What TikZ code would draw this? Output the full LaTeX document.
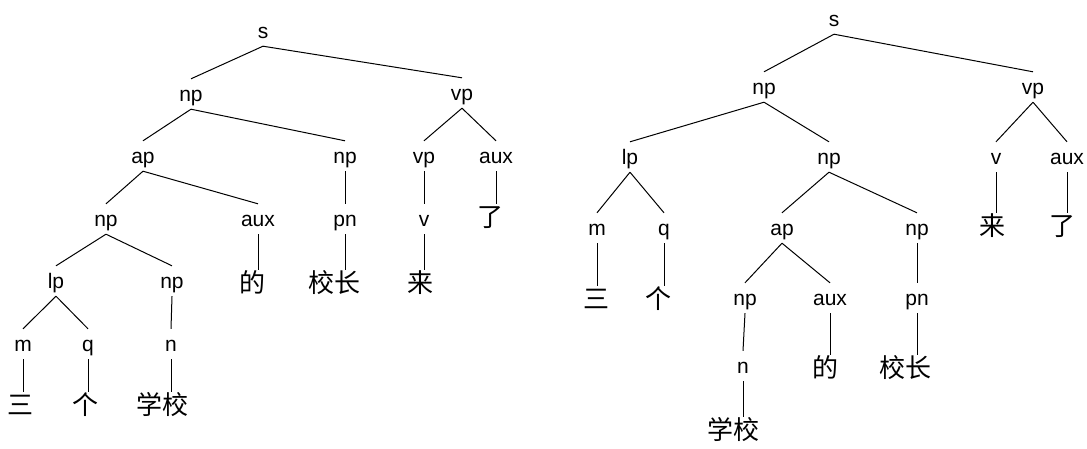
\documentclass[tikz,border=0pt]{standalone}
\usepackage{fontspec}
\setmainfont{Liberation Sans}
\newfontfamily\cjk{Noto Sans CJK SC}
\tikzset{
  lab/.style={font=\fontsize{21}{21}\selectfont, inner xsep=0pt, inner ysep=4.5pt, text height=18pt, text depth=3pt, yshift=2pt},
  zh/.style={font=\cjk\fontsize{26}{26}\selectfont, inner sep=0pt, text height=22pt, text depth=4pt},
  edge/.style={line width=1pt, black}
}
\begin{document}
\begin{tikzpicture}[x=1pt,y=-1pt]
\useasboundingbox (0,0) rectangle (1087,448);
% ---------------- left tree ----------------
\node[lab] (Ls)    at (263,33)  {s};
\node[lab] (Lnp1)  at (191,96)  {np};
\node[lab] (Lvp1)  at (462,95)  {vp};
\node[lab] (Lap)   at (143,158) {ap};
\node[lab] (Lnp2)  at (345,158) {np};
\node[lab] (Lvp2)  at (424,158) {vp};
\node[lab] (Laux1) at (496,158) {aux};
\node[lab] (Lnp3)  at (106,221) {np};
\node[lab] (Laux2) at (258,221) {aux};
\node[lab] (Lpn)   at (345,221) {pn};
\node[lab] (Lv)    at (424,221) {v};
\node[zh]  (Lle)   at (490,217) {了};
\node[lab] (Llp)   at (56,283)  {lp};
\node[lab] (Lnp4)  at (172,283) {np};
\node[zh]  (Lde)   at (252,283) {的};
\node[zh]  (Lxz)   at (334,283) {校长};
\node[zh]  (Llai)  at (420,283) {来};
\node[lab] (Lm)    at (23,346)  {m};
\node[lab] (Lq)    at (88,346)  {q};
\node[lab] (Ln)    at (171,346) {n};
\node[zh]  (Lsan)  at (21,405)  {三};
\node[zh]  (Lge)   at (85,405)  {个};
\node[zh]  (Lxx)   at (162,405) {学校};
\draw[edge] (Ls.south) -- (Lnp1.north);
\draw[edge] (Ls.south) -- (Lvp1.north);
\draw[edge] (Lnp1.south) -- (Lap.north);
\draw[edge] (Lnp1.south) -- (Lnp2.north);
\draw[edge] (Lvp1.south) -- (Lvp2.north);
\draw[edge] (Lvp1.south) -- (Laux1.north);
\draw[edge] (Lap.south) -- (Lnp3.north);
\draw[edge] (Lap.south) -- (Laux2.north);
\draw[edge] (Lnp2.south) -- (Lpn.north);
\draw[edge] (Lvp2.south) -- (Lv.north);
\draw[edge] (Laux1.south) -- (Laux1.south |- Lle.north);
\draw[edge] (Lnp3.south) -- (Llp.north);
\draw[edge] (Lnp3.south) -- (Lnp4.north);
\draw[edge] (Laux2.south) -- (Laux2.south |- Lde.north);
\draw[edge] (Lpn.south) -- (Lpn.south |- Lxz.north);
\draw[edge] (Lv.south) -- (Lv.south |- Llai.north);
\draw[edge] (Llp.south) -- (Lm.north);
\draw[edge] (Llp.south) -- (Lq.north);
\draw[edge] (Lnp4.south) -- (Ln.north);
\draw[edge] (Lm.south) -- (Lm.south |- Lsan.north);
\draw[edge] (Lq.south) -- (Lq.south |- Lge.north);
\draw[edge] (Ln.south) -- (Ln.south |- Lxx.north);
% ---------------- right tree ----------------
\node[lab] (Rs)    at (834,21)  {s};
\node[lab] (Rnp1)  at (764,89)  {np};
\node[lab] (Rvp1)  at (1033,89) {vp};
\node[lab] (Rlp)   at (630,159) {lp};
\node[lab] (Rnp2)  at (829,159) {np};
\node[lab] (Rv)    at (996,159) {v};
\node[lab] (Raux1) at (1067,159) {aux};
\node[lab] (Rm)    at (597,230) {m};
\node[lab] (Rq)    at (664,230) {q};
\node[lab] (Rap)   at (782,230) {ap};
\node[lab] (Rnp3)  at (917,230) {np};
\node[zh]  (Rlai)  at (992,226) {来};
\node[zh]  (Rle)   at (1062,226) {了};
\node[zh]  (Rsan)  at (596,299) {三};
\node[zh]  (Rge)   at (658,299) {个};
\node[lab] (Rnp4)  at (745,300) {np};
\node[lab] (Raux2) at (830,300) {aux};
\node[lab] (Rpn)   at (917,300) {pn};
\node[lab] (Rn)    at (743,368) {n};
\node[zh]  (Rde)   at (825,368) {的};
\node[zh]  (Rxz)   at (905,368) {校长};
\node[zh]  (Rxx)   at (733,430) {学校};
\draw[edge] (Rs.south) -- (Rnp1.north);
\draw[edge] (Rs.south) -- (Rvp1.north);
\draw[edge] (Rnp1.south) -- (Rlp.north);
\draw[edge] (Rnp1.south) -- (Rnp2.north);
\draw[edge] (Rvp1.south) -- (Rv.north);
\draw[edge] (Rvp1.south) -- (Raux1.north);
\draw[edge] (Rlp.south) -- (Rm.north);
\draw[edge] (Rlp.south) -- (Rq.north);
\draw[edge] (Rnp2.south) -- (Rap.north);
\draw[edge] (Rnp2.south) -- (Rnp3.north);
\draw[edge] (Rv.south) -- (Rv.south |- Rlai.north);
\draw[edge] (Raux1.south) -- (Raux1.south |- Rle.north);
\draw[edge] (Rm.south) -- (Rm.south |- Rsan.north);
\draw[edge] (Rq.south) -- (Rq.south |- Rge.north);
\draw[edge] (Rap.south) -- (Rnp4.north);
\draw[edge] (Rap.south) -- (Raux2.north);
\draw[edge] (Rnp3.south) -- (Rpn.north);
\draw[edge] (Rnp4.south) -- (Rn.north);
\draw[edge] (Raux2.south) -- (Raux2.south |- Rde.north);
\draw[edge] (Rpn.south) -- (Rpn.south |- Rxz.north);
\draw[edge] (Rn.south) -- (Rn.south |- Rxx.north);
\end{tikzpicture}
\end{document}
